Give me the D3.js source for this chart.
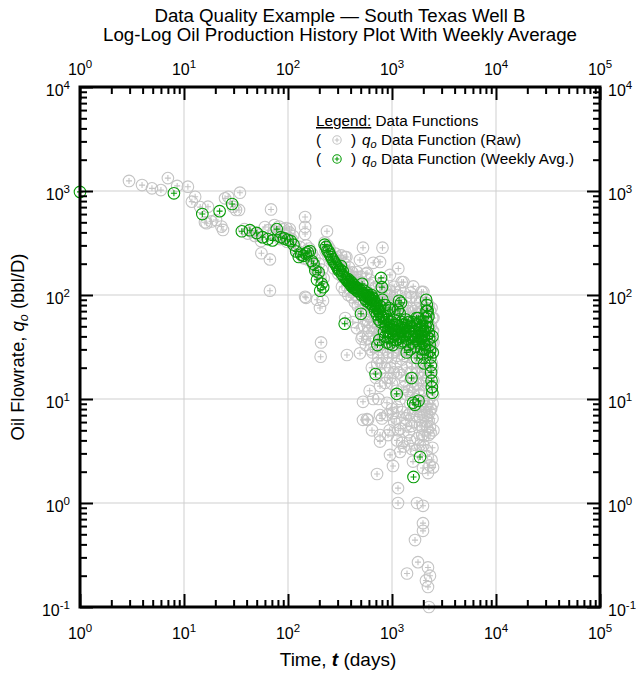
<!DOCTYPE html>
<html>
<head>
<meta charset="utf-8">
<script src="https://cdn.jsdelivr.net/npm/d3@7"></script>
<style>
  body { margin: 0; background: #fff; }
  text { font-family: "Liberation Sans", Arial, Helvetica, sans-serif; fill: #000; }
</style>
</head>
<body>
<svg id="chart" width="636" height="679"></svg>
<script>
// ---- Data: [time (days), oil rate (bbl/D)] ----
const rawData = [
  [2.96,1250],[3.95,1140],[4.92,1060],[6.0,1020],[7.0,1330],[8.6,1120],[10.9,1100],[12.8,880],[11.9,790],
  [14.3,700],[17.0,706],[15.9,500],[16.5,490],[18.4,510],[20.3,526],[22.9,455],[23.7,422],[24.8,850],
  [26.6,880],[29.6,706],[31.6,657],[33.8,657],[34.5,963],[38,430],[41,390],[45,405],[48,370],[52,380],
  [55,330],[55.5,252],[60,450],[65,420],[67,220],[67,110],[68.7,665],[72,400],[74,470],[76,375],[80,380],
  [82,455],[84,345],[88,360],[91,430],[95,372],[96,440],[98,325],[103,400],
  [104,430],[112,369],[108,345],[115,300],[118,280],[124,265],[130,290],[136,240],[142,225],[146,562],
  [146,451],[146,386],[149,94],[146,96],[150,300],[155,220],[160,280],[165,235],[170,250],[175,195],
  [180,225],[185,180],[190,90],[192,165],[198,200],[203,75],[205,150],[208,35],[206,25.5],[212,175],
  [217,88],[220,145],[225,320],[230,265],[237,410],[240,300],[245,240],[250,280],
  [255,250],[262,215],[270,235],[278,180],[285,250],[292,205],[300,230],[305,160],[310,200],[318,188],
  [325,240],[332,150],[340,175],[348,200],[353,232],[360,165],[364,232],[370,145],[378,160],[385,185],
  [392,150],[400,112],[408,140],[415,165],[425,150],[435,128],[445,100],[452,135],[460,166],[470,140],
  [480,92],[492,217],[492,118],[500,150],[510,38],[515,110],[526,285],[530,125],[540,85],[550,100],
  [560,160],[575,163],[580,108],[590,80],[600,95],[612,140],[625,100],[640,75],[650,88],[660,204],
  [665,130],[680,96],[690,64],[700,120],[710,80],[725,70],[740,88],[750,60],[760,110],[767,208],
  [767,46],[780,75],[790,56],[800,82],[810,285],[369,26.5],[492,27.5],[520,40],[560,33],[600,45],
  [620,30],[650,28],[700,38],[720,22],[740,25],[780,33],
  [330,120],[350,110],[380,100],[410,95],[440,85],[470,78],[500,70],[530,65],[560,58],[590,55],[620,62],
  [650,50],[680,55],[710,48],[740,42],[770,40],[355,60],[420,55],[460,48],[540,50],[600,38],[680,32],
  [760,30],[640,20],[700,16],[610,12],[660,10],[740,10],[790,22],
  [767,17.8],[857,14.3],[957,16],[767,13.3],[767,7],[895,9.2],[1023,7.3],[588,6.3],[642,5.0],[767,4.5],
  [767,3.9],[916,4.5],[1117,4.0],[1490,4.0],[1194,3.1],[957,2.9],[1023,2.27],[718,1.9],[1592,2.5],
  [1986,2.17],[2217,1.94],[1142,1.39],[1142,1.0],[1740,1.0],[1986,0.94],[1986,0.64],[1986,0.54],
  [1664,0.44],[1778,0.27],[2217,0.24],[1394,0.21],[2317,0.20],[2121,0.18],[2217,0.156],[2266,0.1],
  [526,9.4],[526,6.3],[575,6.4],[801,6.5],[1117,8.4],[2168,7.3],[1859,5.6],[2317,5.4],[1490,7.3],
  [1859,6.7],[2168,5.4],[1364,5.6],
  [820,130],[830,95],[845,70],[860,45],[870,30],[880,110],[895,85],[905,25],[915,60],[930,40],[945,100],
  [955,156],[960,20],[975,70],[990,35],[1005,90],[1020,28],[1035,60],[1050,120],[1065,45],[1080,22],
  [1095,75],[1110,32],[1125,100],[1140,50],[1150,180],[1160,18],[1175,65],[1190,30],[1205,110],[1220,42],
  [1240,133],[1255,24],[1270,80],[1290,133],[1300,35],[1320,55],[1340,15],[1360,95],[1380,40],[1400,20],
  [1420,70],[1440,12],[1460,50],[1480,28],[1500,105],[1520,18],[1540,96],[1560,40],[1580,13],[1600,121],
  [1620,60],[1640,25],[1660,35],[1680,10],[1700,75],[1720,93],[1740,20],[1760,45],[1780,14],[1800,65],
  [1820,30],[1840,11],[1860,85],[1880,50],[1900,22],[1920,107],[1940,38],[1960,16],[1980,70],[2000,107],
  [2020,28],[2040,12],[2060,55],[2080,40],[2100,20],[2120,90],[2140,33],[2160,15],[2170,83],[2190,60],
  [2210,25],[2240,80],[2260,45],[2280,10],[2300,30],[2320,70],[2340,18],[2360,50],[2380,13],[2400,35],
  [2420,22],[2440,60],[2460,9],[2480,28],[2500,15],[2450,45],[2380,8],[2300,7.5],[2200,9],[2100,8.5],
  [2000,9.5],[1900,8],[1800,12],[1700,14],[1600,16],[1500,9],[1400,11],[1300,13],[1200,10],[1100,12],
  [1000,14],[900,16],[850,20],
  [820,40],[840,90],[880,52],[920,28],[960,110],[1000,38],[1040,18],[1080,85],[1120,26],[1160,70],
  [1200,40],[1240,17],[1280,58],[1320,26],[1360,45],[1400,75],[1440,30],[1480,60],[1520,36],[1560,22],
  [1600,50],[1640,70],[1680,30],[1720,45],[1760,18],[1800,40],[1840,60],[1880,25],[1920,70],[1960,45],
  [2000,30],[2040,65],[2080,18],[2120,40],[2160,55],[2200,35],[2240,16],[2280,50],[2320,40],[2360,30],
  [2400,75],[2440,20],[2480,45],[2500,60],[2500,35],[2490,11],
  [900,7],[950,5],[1000,8],[1100,6.5],[1150,5],[1250,7.5],[1350,6.5],[1450,7],[1550,5.5],[1650,8],
  [1750,6.8],[1850,8.5],[1950,4.5],[2050,7],[2150,6],[2250,4.5],[2350,8],[2450,6.5],[2500,5],[1250,3.8],
  [1700,3.2],[2000,3.6],[2200,2.8],[2480,2.2],
  [1050,6],[1200,5.2],[1300,3.5],[1450,4.8],[1550,3.3],[1650,6],[1750,4.2],[1850,3.6],[1950,5.5],
  [2050,4.4],[2150,3.2],[2250,6.2],[2350,4.7],[2450,3.4],[2400,2.6],[2300,2.3]
];

const weeklyData = [
  [1,980],[8,950],[15,600],[22,640],[29,750],[36,410],[43,420],[50,395],[57,360],[64,345],[71,335],
  [78,430],[85,360],[92,350],[99,340],[106,330],[113,305],[120,262],[127,232],[134,245],[141,238],
  [148,250],[155,258],[162,265],[169,212],[176,200],[183,172],[190,140],[197,165],[204,110],[211,128],
  [218,119],[225,305],[232,290],[239,268],[246,262],[253,245],[260,232],[267,222],[274,210],[281,205],
  [288,196],[295,188],[302,180],[309,172],[316,176],[323,190],[330,160],[337,168],[344,150],[351,53],
  [358,145],[365,140],[372,137],[379,142],[386,132],[393,128],[400,135],[407,123],[414,130],[421,118],
  [428,125],[435,116],[442,120],[449,113],[456,118],[463,110],[470,115],[477,108],[490,112],[503,66],
  [510,100],[516,128],[530,104],[537,110],[545,100],[552,92],[560,98],[567,88],[575,105],[582,100],
  [590,94],[597,85],[605,96],[612,92],[620,90],[627,82],[635,100],[642,95],[650,88],[657,78],[665,92],
  [672,88],[680,80],[687,70],[695,17.4],[702,82],[710,75],[717,65],[725,33],[732,75],[740,70],[747,58],
  [755,37],[762,68],[770,78],[777,55],[785,146],[792,62],[800,119],[808,90],
  [815,65],[830,60],[838,44],[845,55],[857,80],[863,40],[870,50],[885,62],
  [892,35],[900,58],[915,45],[922,39],[930,52],[938,75],[945,48],[952,34],[960,72],
  [975,43],[982,47],[990,55],[1005,50],[1015,33],[1025,40],[1045,58],[1058,52],
  [1070,46],[1090,37],[1100,45],[1110,11.2],[1130,42],[1140,72],[1150,38],[1160,50],
  [1170,88],[1180,45],[1190,66],[1212,35],[1221,84],[1235,55],[1255,48],[1265,52],
  [1275,36],[1300,44],[1315,48],[1330,40],[1345,42],[1360,58],[1372,50],[1385,28],
  [1410,38],[1425,45],[1440,33],[1455,55],[1470,45],[1485,40],[1500,30],[1515,50],[1540,15.9],[1550,42],
  [1565,35],[1580,55],[1595,9.2],[1610,1.78],[1625,40],[1645,50],[1660,8.8],[1675,45],[1690,32],
  [1705,38],[1720,60],[1735,24.8],[1750,52],[1770,40],[1790,60],[1800,9.6],[1815,35],[1830,46],
  [1845,55],[1860,2.77],[1875,48],[1890,38],[1905,40],[1920,30],[1935,50],[1950,42],[1965,36],[1980,27],
  [1995,45],[2010,35],[2025,40],[2040,22],[2055,33],[2070,30],[2085,45],[2100,50],[2115,60],[2130,90],
  [2145,70],[2160,80],[2170,55],[2200,70],[2220,49],[2240,62],[2260,43],[2280,38],[2300,33],[2320,29],
  [2340,25],[2360,21],[2380,18],[2400,15],[2420,13],[2440,11.5],[2450,40],[2460,28]
];

// Decade exponents used for axis labels and grid
const timeExponents = [0, 1, 2, 3, 4, 5];
const rateExponents = [-1, 0, 1, 2, 3, 4];

const titleLines = [
  "Data Quality Example \u2014 South Texas Well B",
  "Log-Log Oil Production History Plot With Weekly Average"
];

// ---- Layout ----
const plotL = 80, plotR = 600, plotT = 87, plotB = 607;
const gray = "#c4c4c4", green = "#079c07";

const svg = d3.select("#chart");
svg.append("rect").attr("width", 636).attr("height", 679).attr("fill", "#fff");

const x = d3.scaleLog().domain([1, 1e5]).range([plotL, plotR]);
const y = d3.scaleLog().domain([0.1, 1e4]).range([plotB, plotT]);

const majorT = timeExponents.map(e => Math.pow(10, e));
const majorQ = rateExponents.map(e => Math.pow(10, e));
const minorT = [], minorQ = [];
timeExponents.slice(0, -1).forEach(e => { for (let k = 2; k <= 9; k++) minorT.push(k * Math.pow(10, e)); });
rateExponents.slice(0, -1).forEach(e => { for (let k = 2; k <= 9; k++) minorQ.push(k * Math.pow(10, e)); });

// Grid lines at each decade
const grid = svg.append("g").attr("stroke", "#cfcfcf").attr("stroke-width", 1);
grid.selectAll(".gx").data(majorT.slice(1, -1)).join("line").attr("class", "gx")
  .attr("x1", d => x(d)).attr("x2", d => x(d)).attr("y1", plotT).attr("y2", plotB);
grid.selectAll(".gy").data(majorQ.slice(1, -1)).join("line").attr("class", "gy")
  .attr("y1", d => y(d)).attr("y2", d => y(d)).attr("x1", plotL).attr("x2", plotR);

// Marker: open circle with a plus sign
function drawMarkers(data, color) {
  const g = svg.append("g").attr("fill", "none").attr("stroke", color).attr("stroke-width", 1.1);
  const m = g.selectAll("g").data(data).join("g")
    .attr("transform", d => `translate(${x(d[0])},${y(d[1])})`);
  m.append("circle").attr("r", 5.8);
  m.append("path").attr("d", "M-3,0H3M0,-3V3");
}
drawMarkers(rawData, gray);
drawMarkers(weeklyData, green);

// Inward ticks on all four sides
function ticks(axisFn, vals, size, transform) {
  const g = svg.append("g").attr("transform", transform)
    .call(axisFn.tickValues(vals).tickSize(-size).tickSizeOuter(0).tickFormat(""));
  g.select(".domain").remove();
  g.selectAll("line").attr("stroke", "#000").attr("stroke-width", 2);
}
ticks(d3.axisBottom(x), minorT, 7, `translate(0,${plotB})`);
ticks(d3.axisBottom(x), majorT, 13, `translate(0,${plotB})`);
ticks(d3.axisTop(x), minorT, 7, `translate(0,${plotT})`);
ticks(d3.axisTop(x), majorT, 13, `translate(0,${plotT})`);
ticks(d3.axisLeft(y), minorQ, 7, `translate(${plotL},0)`);
ticks(d3.axisLeft(y), majorQ, 13, `translate(${plotL},0)`);
ticks(d3.axisRight(y), minorQ, 7, `translate(${plotR},0)`);
ticks(d3.axisRight(y), majorQ, 13, `translate(${plotR},0)`);

// Plot frame
svg.append("rect").attr("x", plotL).attr("y", plotT)
  .attr("width", plotR - plotL).attr("height", plotB - plotT)
  .attr("fill", "none").attr("stroke", "#000").attr("stroke-width", 3);

// Power-of-ten labels
function powLabel(sel, e) {
  sel.append("tspan").text("10");
  sel.append("tspan").attr("font-size", 11.5).attr("dy", -7).text(String(e));
}
timeExponents.forEach(e => {
  powLabel(svg.append("text").attr("x", x(Math.pow(10, e))).attr("y", 639)
    .attr("text-anchor", "middle").attr("font-size", 16), e);
  powLabel(svg.append("text").attr("x", x(Math.pow(10, e))).attr("y", 75)
    .attr("text-anchor", "middle").attr("font-size", 16), e);
});
rateExponents.forEach(e => {
  powLabel(svg.append("text").attr("x", plotL - 10).attr("y", y(Math.pow(10, e)) + 9)
    .attr("text-anchor", "end").attr("font-size", 16), e);
  powLabel(svg.append("text").attr("x", plotR + 8).attr("y", y(Math.pow(10, e)) + 9)
    .attr("text-anchor", "start").attr("font-size", 16), e);
});

// Title
titleLines.forEach((t, i) => {
  svg.append("text").attr("x", 340).attr("y", 22 + i * 19)
    .attr("text-anchor", "middle").attr("font-size", 18.7).text(t);
});

// Axis titles
const xt = svg.append("text").attr("x", 338).attr("y", 666)
  .attr("text-anchor", "middle").attr("font-size", 19);
xt.append("tspan").text("Time, ");
xt.append("tspan").attr("font-style", "italic").attr("font-weight", "bold").text("t");
xt.append("tspan").text(" (days)");

const yt = svg.append("text").attr("transform", "translate(24,347) rotate(-90)")
  .attr("text-anchor", "middle").attr("font-size", 18.5);
yt.append("tspan").text("Oil Flowrate, ");
yt.append("tspan").attr("font-style", "italic").text("q");
yt.append("tspan").attr("font-style", "italic").attr("font-size", 12.5).attr("dy", 4).text("o");
yt.append("tspan").attr("dy", -4).text(" (bbl/D)");

// Legend
const lg = svg.append("g").attr("font-size", 15.3);
const l0 = lg.append("text").attr("x", 316).attr("y", 126);
l0.append("tspan").attr("text-decoration", "underline").text("Legend:");
l0.append("tspan").text(" Data Functions");

[["Data Function (Raw)", gray, 145], ["Data Function (Weekly Avg.)", green, 164]].forEach(([label, color, by]) => {
  lg.append("text").attr("x", 316).attr("y", by).text("(");
  const s = lg.append("g").attr("transform", `translate(337,${by - 5})`)
    .attr("fill", "none").attr("stroke", color).attr("stroke-width", 1.1);
  s.append("circle").attr("r", 4.2);
  s.append("path").attr("d", "M-2.3,0H2.3M0,-2.3V2.3");
  lg.append("text").attr("x", 351).attr("y", by).text(")");
  const t = lg.append("text").attr("x", 362).attr("y", by);
  t.append("tspan").attr("font-style", "italic").text("q");
  t.append("tspan").attr("font-style", "italic").attr("font-size", 11).attr("dy", 3).text("o");
  t.append("tspan").attr("dy", -3).text(" " + label);
});
</script>
</body>
</html>
